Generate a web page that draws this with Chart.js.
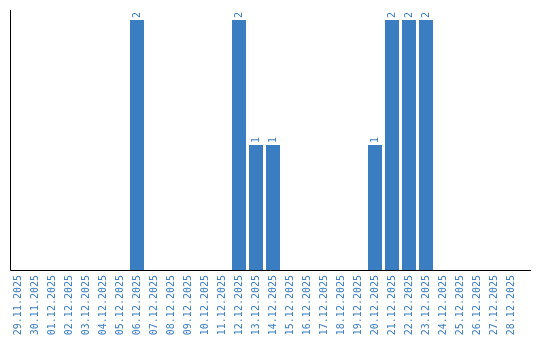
<!DOCTYPE html>
<html>
<head>
<meta charset="utf-8">
<script src="https://cdn.jsdelivr.net/npm/chart.js@4"></script>
<style>
  html, body { margin: 0; padding: 0; background: #fff; }
  canvas { display: block; }
</style>
</head>
<body>
<canvas id="dayStats" width="540" height="340"></canvas>
<script>
const days = [
  '29.11.2025', '30.11.2025', '01.12.2025', '02.12.2025', '03.12.2025',
  '04.12.2025', '05.12.2025', '06.12.2025', '07.12.2025', '08.12.2025',
  '09.12.2025', '10.12.2025', '11.12.2025', '12.12.2025', '13.12.2025',
  '14.12.2025', '15.12.2025', '16.12.2025', '17.12.2025', '18.12.2025',
  '19.12.2025', '20.12.2025', '21.12.2025', '22.12.2025', '23.12.2025',
  '24.12.2025', '25.12.2025', '26.12.2025', '27.12.2025', '28.12.2025'
];
const counts = [
  0, 0, 0, 0, 0,
  0, 0, 2, 0, 0,
  0, 0, 0, 2, 1,
  1, 0, 0, 0, 0,
  0, 1, 2, 2, 2,
  0, 0, 0, 0, 0
];

const blue = '#3a7dc0';

// numbers above the bars, turned like the date labels
const valueLabels = {
  id: 'valueLabels',
  afterDatasetsDraw(chart) {
    const ctx = chart.ctx;
    const meta = chart.getDatasetMeta(0);
    ctx.save();
    ctx.fillStyle = blue;
    ctx.font = '10px "DejaVu Sans Mono"';
    ctx.textAlign = 'left';
    ctx.textBaseline = 'middle';
    meta.data.forEach((bar, i) => {
      const v = counts[i];
      if (!v) return;
      ctx.save();
      ctx.translate(bar.x, bar.y - 2);
      ctx.rotate(-Math.PI / 2);
      ctx.fillText(String(v), 0, 0);
      ctx.restore();
    });
    ctx.restore();
  }
};

// plain black axis lines, the bottom one runs a bit past the last bar
const axisLines = {
  id: 'axisLines',
  afterDraw(chart) {
    const ctx = chart.ctx;
    const a = chart.chartArea;
    const x0 = Math.round(a.left) + 0.5;
    const y0 = Math.round(a.bottom) + 0.5;
    ctx.save();
    ctx.strokeStyle = '#000';
    ctx.lineWidth = 1;
    ctx.beginPath();
    ctx.moveTo(x0, Math.round(a.top));
    ctx.lineTo(x0, y0);
    ctx.lineTo(chart.width - 9, y0);
    ctx.stroke();
    ctx.restore();
  }
};

new Chart(document.getElementById('dayStats'), {
  type: 'bar',
  data: {
    labels: days,
    datasets: [{
      data: counts,
      backgroundColor: blue,
      borderWidth: 0,
      categoryPercentage: 1,
      barPercentage: 14 / 17
    }]
  },
  options: {
    responsive: false,
    animation: false,
    layout: { padding: { left: 9.5, right: 20.5, top: 10, bottom: 0 } },
    plugins: {
      legend: { display: false },
      tooltip: { enabled: false }
    },
    scales: {
      x: {
        grid: { display: false, drawTicks: false },
        border: { display: false },
        ticks: {
          color: blue,
          font: { family: 'DejaVu Sans Mono', size: 10 },
          minRotation: 90,
          maxRotation: 90,
          autoSkip: false,
          padding: 5
        },
        afterFit(scale) { scale.height = 70; }
      },
      y: {
        display: false,
        min: 0,
        max: 2.08
      }
    }
  },
  plugins: [valueLabels, axisLines]
});
</script>
</body>
</html>
